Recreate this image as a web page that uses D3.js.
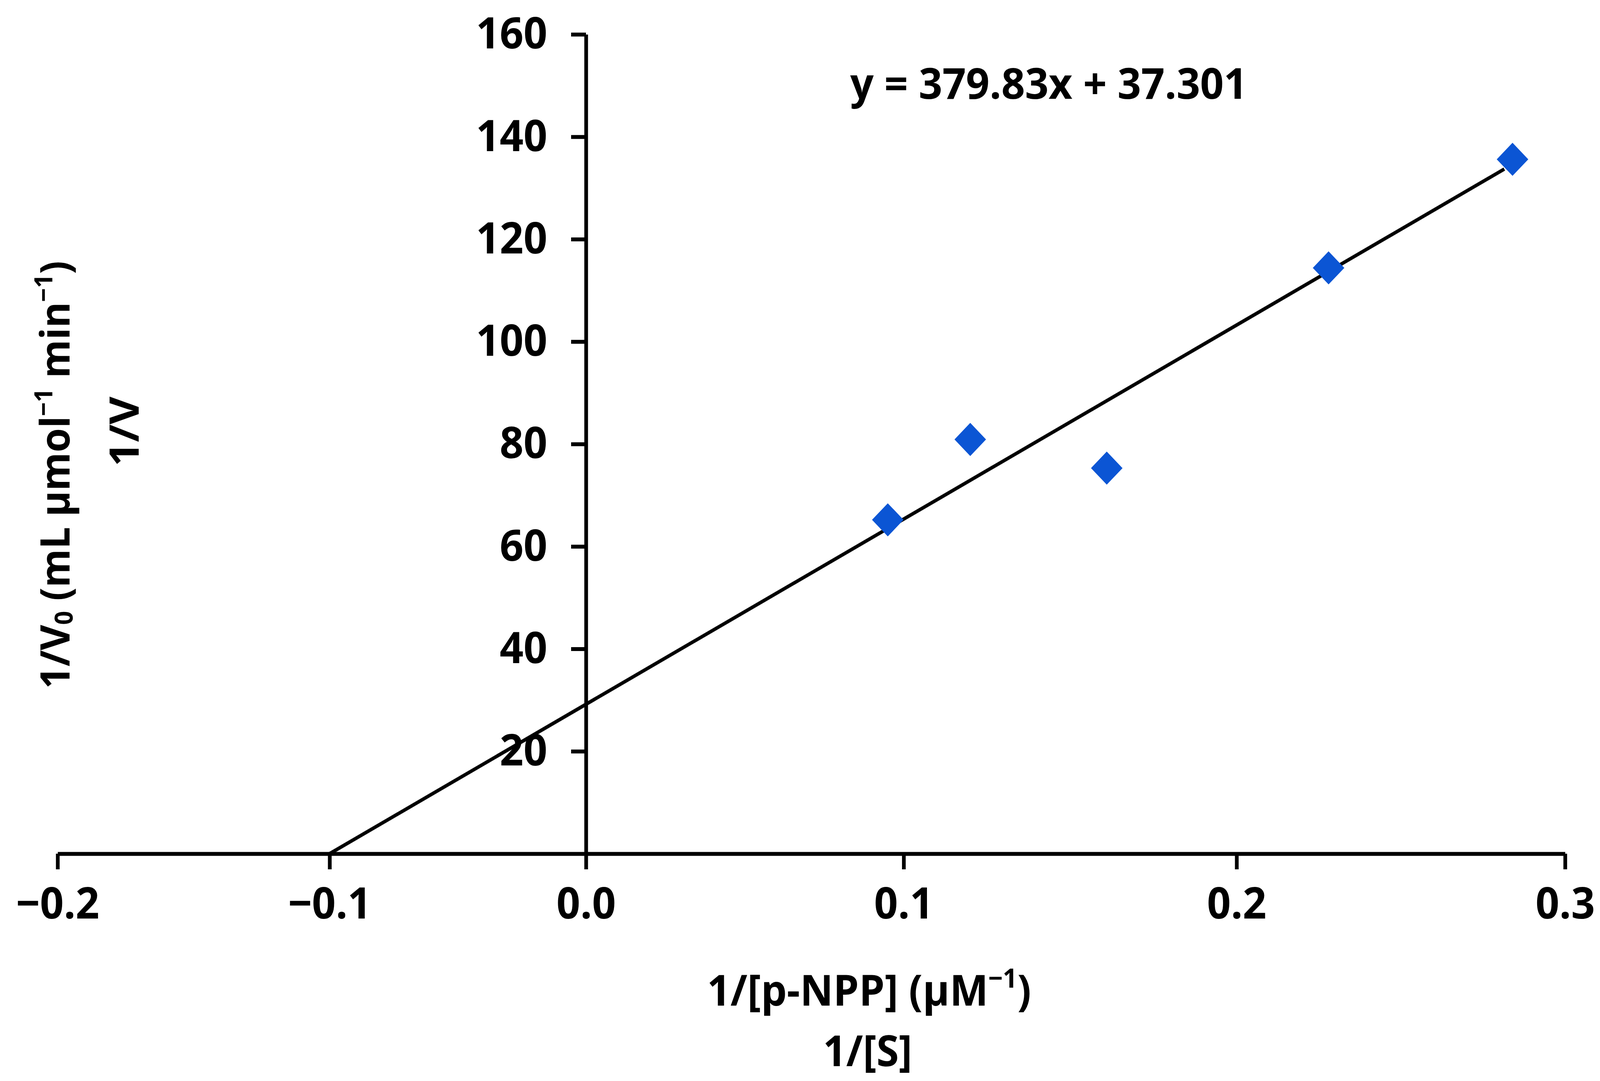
<!DOCTYPE html>
<html>
<head>
<meta charset="utf-8">
<script src="https://cdn.jsdelivr.net/npm/d3@7"></script>
<style>
  html, body { margin: 0; padding: 0; background: #fff; overflow: hidden; }
  svg { display: block; width: 100vw; height: 100vh; }
  text { font-family: "Open Sans", "Liberation Sans", Arial, sans-serif; font-weight: 700; fill: #000; }
</style>
</head>
<body>
<div id="chart"></div>
<script>
// Lineweaver-Burk points
var invSubstrate = [0.095, 0.12, 0.161, 0.228, 0.284];
var invVelocity = [65.2, 80.9, 75.3, 114.4, 135.6];

// trend line as drawn (ends)
var fitX = [-0.1, 0.2815];
var fitY = [0, 133.7];

var xTicks = [-0.2, -0.1, 0.0, 0.1, 0.2, 0.3];
var yTicks = [20, 40, 60, 80, 100, 120, 140, 160];

var equationLabel = "y = 379.83x + 37.301";

var width = 4306,
    height = 2768;

var svg = d3.select("#chart")
  .append("svg")
    .attr("viewBox", `0 0 ${width} ${height}`)
    .attr("preserveAspectRatio", "none");

// the original x axis is not evenly spaced, so use a piecewise scale
var xScale = d3.scaleLinear()
  .domain(xTicks)
  .range([155, 887, 1577, 2432, 3328, 4212]);

var yScale = d3.scaleLinear()
  .domain([0, 160])
  .range([2186, 88]);

var fontSize = 112;

// X axis
var xAxis = svg.append("g")
  .attr("transform", `translate(0, ${yScale(0)})`)
  .call(d3.axisBottom(xScale)
    .tickValues(xTicks)
    .tickFormat(d3.format(".1f"))
    .tickSize(40)
    .tickSizeOuter(0)
    .tickPadding(46));

// Y axis sits at x = 0
var yAxis = svg.append("g")
  .attr("transform", `translate(${xScale(0)}, 0)`)
  .call(d3.axisLeft(yScale)
    .tickValues(yTicks)
    .tickSize(40)
    .tickSizeOuter(0)
    .tickPadding(64));

svg.selectAll(".domain, .tick line")
  .attr("stroke", "#000")
  .attr("stroke-width", 10);

svg.selectAll(".tick text")
  .attr("font-size", fontSize)
  .attr("font-family", null);

// trend line
var line = d3.line()
  .x(d => xScale(d[0]))
  .y(d => yScale(d[1]));

svg.append("path")
  .datum(d3.zip(fitX, fitY))
  .attr("d", line)
  .attr("fill", "none")
  .attr("stroke", "#000")
  .attr("stroke-width", 9);

// diamonds
svg.selectAll(".pt")
  .data(d3.zip(invSubstrate, invVelocity))
  .enter()
  .append("path")
    .attr("class", "pt")
    .attr("d", d3.symbol().type(d3.symbolSquare).size(3600))
    .attr("transform", d => `translate(${xScale(d[0])},${yScale(d[1])}) rotate(45)`)
    .attr("fill", "#0b55d4");

// equation
svg.append("text")
  .attr("x", 2288)
  .attr("y", 253)
  .attr("font-size", 110)
  .attr("textLength", 1069)
  .attr("lengthAdjust", "spacingAndGlyphs")
  .text(equationLabel);

// x axis title
var titleSize = 110;
var xTitle = svg.append("text")
  .attr("x", 2339)
  .attr("y", 2575)
  .attr("text-anchor", "middle")
  .attr("font-size", titleSize)
  .attr("textLength", 872)
  .attr("lengthAdjust", "spacingAndGlyphs");
xTitle.append("tspan").text("1/[p-NPP] (µM");
xTitle.append("tspan").attr("font-size", titleSize * 0.62).attr("baseline-shift", "super").text("−1");
xTitle.append("tspan").text(")");

svg.append("text")
  .attr("x", 2335)
  .attr("y", 2730)
  .attr("text-anchor", "middle")
  .attr("font-size", titleSize)
  .attr("textLength", 240)
  .attr("lengthAdjust", "spacingAndGlyphs")
  .text("1/[S]");

// y axis title, two rotated lines
var yTitle = svg.append("text")
  .attr("transform", "translate(187, 1216) rotate(-90)")
  .attr("text-anchor", "middle")
  .attr("font-size", titleSize)
  .attr("textLength", 1096)
  .attr("lengthAdjust", "spacingAndGlyphs");
yTitle.append("tspan").text("1/V");
yTitle.append("tspan").attr("font-size", titleSize * 0.62).attr("baseline-shift", "-8").text("0");
yTitle.append("tspan").text(" (mL µmol");
yTitle.append("tspan").attr("font-size", titleSize * 0.62).attr("baseline-shift", "super").text("−1");
yTitle.append("tspan").text(" min");
yTitle.append("tspan").attr("font-size", titleSize * 0.62).attr("baseline-shift", "super").text("−1");
yTitle.append("tspan").text(")");

svg.append("text")
  .attr("transform", "translate(373, 1105) rotate(-90)")
  .attr("text-anchor", "middle")
  .attr("font-size", titleSize)
  .attr("textLength", 179)
  .attr("lengthAdjust", "spacingAndGlyphs")
  .text("1/V");
</script>
</body>
</html>
